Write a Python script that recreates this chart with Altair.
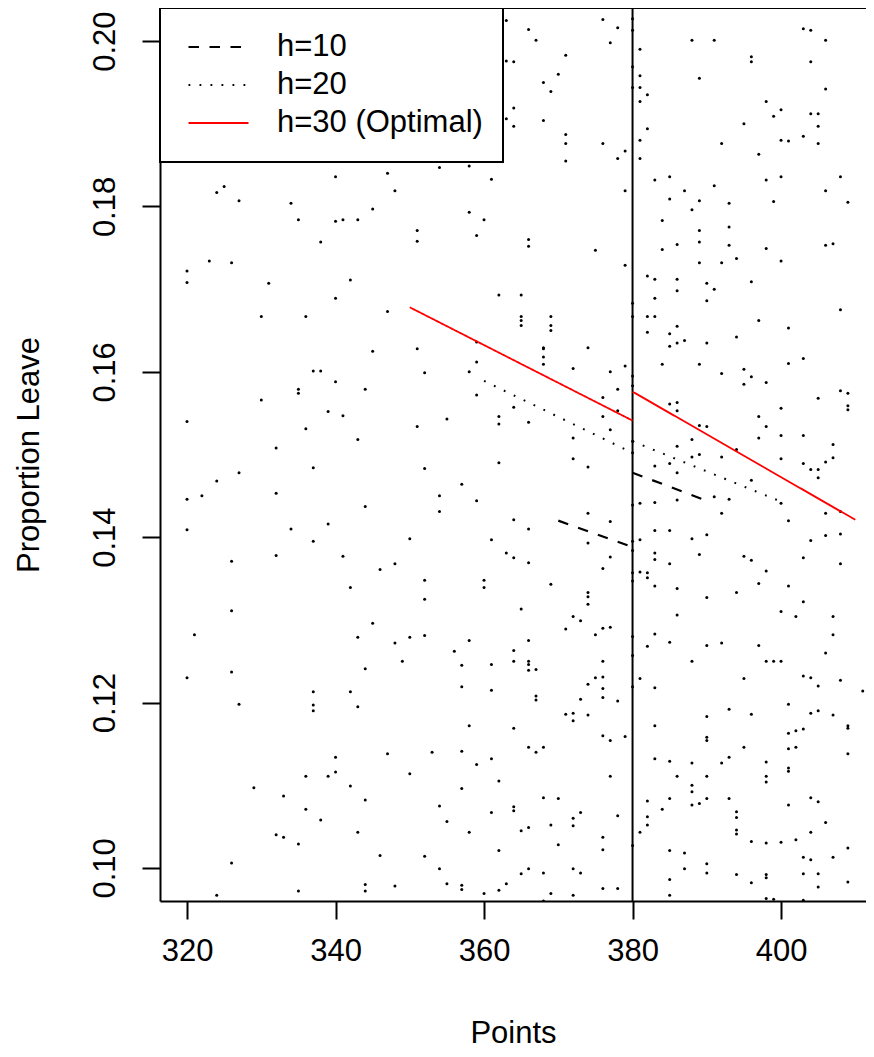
import altair as alt
import pandas as pd

# ---------------- data ----------------
x_domain = [316.36, 411.44]
y_domain = [0.096, 0.204]
x_ticks = [320, 340, 360, 380, 400]
y_ticks = [0.10, 0.12, 0.14, 0.16, 0.18, 0.20]
cutoff = 380

left_points = [
    (324, 0.1817), (325, 0.1824), (327, 0.1807), (334, 0.1804), (335, 0.1784), (340, 0.1836),
    (340, 0.1782), (341, 0.1784), (343, 0.1784), (345, 0.1797), (347, 0.1840), (348, 0.1819),
    (363, 0.2025), (366, 0.2014), (367, 0.2001), (371, 0.1983), (370, 0.1960), (368, 0.1950),
    (369, 0.1939), (363, 0.1976), (364, 0.1975), (364, 0.1919), (363, 0.1906), (364, 0.1897),
    (368, 0.1904), (371, 0.1887), (371, 0.1876), (376, 0.1876), (379, 0.1867), (378, 0.1858),
    (371, 0.1855), (379, 0.1819), (376, 0.2026), (378, 0.2016), (377, 0.1998), (354, 0.1847),
    (358, 0.1849), (361, 0.1833), (358, 0.1793), (360, 0.1784), (351, 0.1771),
    (338, 0.1757), (323, 0.1734), (326, 0.1732), (320, 0.1722), (320, 0.1708), (331, 0.1707),
    (342, 0.1711), (340, 0.1689), (347, 0.1673), (330, 0.1667), (336, 0.1667), (345, 0.1625),
    (337, 0.1601), (338, 0.1601), (340, 0.1588), (335, 0.1579), (335, 0.1574), (344, 0.1579),
    (330, 0.1566), (339, 0.1552), (341, 0.1547), (320, 0.1540), (336, 0.1531), (343, 0.1518),
    (332, 0.1508),
    (351, 0.1758), (359, 0.1765), (366, 0.1760), (366, 0.1752), (375, 0.1747), (379, 0.1729),
    (362, 0.1693), (365, 0.1693), (365, 0.1667), (365, 0.1662), (365, 0.1656), (369, 0.1667),
    (369, 0.1656), (369, 0.1650), (351, 0.1628), (359, 0.1636), (368, 0.1629), (368, 0.1628),
    (368, 0.1618), (368, 0.1609), (374, 0.1629), (352, 0.1599), (359, 0.1612), (358, 0.1600),
    (372, 0.1604), (377, 0.1600), (379, 0.1607), (359, 0.1572), (378, 0.1579), (364, 0.1557),
    (376, 0.1569), (378, 0.1553), (376, 0.1546), (355, 0.1543), (362, 0.1546), (362, 0.1537),
    (366, 0.1539), (351, 0.1534), (377, 0.1530), (372, 0.1520),
    (337, 0.1484), (327, 0.1478), (324, 0.1468), (320, 0.1446), (322, 0.1450), (332, 0.1453),
    (344, 0.1437), (320, 0.1409), (334, 0.1410), (339, 0.1416), (337, 0.1395), (326, 0.1371),
    (332, 0.1378), (341, 0.1377), (346, 0.1361), (348, 0.1368), (342, 0.1339), (326, 0.1311),
    (345, 0.1296), (321, 0.1282), (343, 0.1279), (348, 0.1272), (326, 0.1237), (344, 0.1241),
    (320, 0.1230),
    (352, 0.1483), (362, 0.1490), (372, 0.1495), (374, 0.1485), (357, 0.1464), (354, 0.1450),
    (354, 0.1431), (359, 0.1444), (364, 0.1421), (366, 0.1410), (374, 0.1429), (377, 0.1419),
    (350, 0.1398), (361, 0.1397), (374, 0.1393), (363, 0.1381), (364, 0.1375), (366, 0.1369),
    (377, 0.1376), (376, 0.1362), (352, 0.1348), (360, 0.1348), (360, 0.1339), (369, 0.1343),
    (352, 0.1325), (374, 0.1333), (374, 0.1328), (374, 0.1319), (365, 0.1313), (372, 0.1304),
    (373, 0.1299), (371, 0.1289), (377, 0.1291), (376, 0.1290), (375, 0.1282), (350, 0.1279),
    (352, 0.1281), (358, 0.1275), (366, 0.1275), (356, 0.1262), (364, 0.1263), (349, 0.1250),
    (357, 0.1245), (361, 0.1246), (364, 0.1250), (366, 0.1250), (366, 0.1246), (366, 0.1239),
    (367, 0.1240), (376, 0.1250), (376, 0.1231), (375, 0.1230),
    (327, 0.1198), (337, 0.1213), (337, 0.1197), (337, 0.1190), (342, 0.1213), (343, 0.1195),
    (347, 0.1138), (340, 0.1134), (340, 0.1116), (336, 0.1111), (339, 0.1111), (342, 0.1099),
    (329, 0.1097), (333, 0.1087), (344, 0.1082), (336, 0.1071), (338, 0.1058), (343, 0.1043),
    (332, 0.1040), (333, 0.1037), (335, 0.1029), (346, 0.1015), (326, 0.1006), (344, 0.0980),
    (344, 0.0972), (348, 0.0978), (335, 0.0972), (324, 0.0967),
    (357, 0.1219), (361, 0.1215), (367, 0.1208), (367, 0.1203), (374, 0.1222), (376, 0.1217),
    (373, 0.1204), (376, 0.1206), (378, 0.1202), (371, 0.1186), (372, 0.1187), (372, 0.1178),
    (374, 0.1185), (358, 0.1172), (364, 0.1169), (376, 0.1160), (377, 0.1154), (379, 0.1159),
    (353, 0.1140), (357, 0.1141), (366, 0.1146), (367, 0.1140), (368, 0.1146), (361, 0.1132),
    (359, 0.1125), (350, 0.1114), (362, 0.1105), (377, 0.1111), (357, 0.1096), (368, 0.1085),
    (370, 0.1084), (354, 0.1075), (361, 0.1067), (364, 0.1074), (364, 0.1069), (373, 0.1067),
    (378, 0.1063), (372, 0.1060), (372, 0.1051), (369, 0.1052), (355, 0.1056), (358, 0.1043),
    (365, 0.1045), (366, 0.1049), (376, 0.1037), (376, 0.1022), (370, 0.1028), (362, 0.1021),
    (352, 0.1014), (354, 0.0999), (366, 0.0999), (365, 0.0993), (368, 0.0994), (372, 0.0999),
    (373, 0.0994), (355, 0.0981), (357, 0.0979), (357, 0.0974), (363, 0.0981), (362, 0.0973),
    (360, 0.0969), (369, 0.0969), (372, 0.0967), (376, 0.0975), (378, 0.0975), (368, 0.0960),
]

cutoff_points_y = [0.2027, 0.2013, 0.1969, 0.1944, 0.1683, 0.1667, 0.1595, 0.1583, 0.1516,
                   0.1502, 0.1439, 0.1395, 0.1384, 0.1357, 0.1347, 0.1280, 0.1257, 0.1219, 0.1027]

right_points = [
    (381, 0.1990), (388, 0.2001), (391, 0.2001), (403, 0.2015), (404, 0.2013), (406, 0.2001),
    (396, 0.1981), (396, 0.1975), (404, 0.1975), (381, 0.1958), (389, 0.1955), (381, 0.1944),
    (382, 0.1935), (406, 0.1942), (381, 0.1927), (398, 0.1927), (400, 0.1917), (399, 0.1909),
    (404, 0.1912), (405, 0.1912), (395, 0.1900), (405, 0.1897), (382, 0.1894), (381, 0.1880),
    (400, 0.1880), (401, 0.1879), (403, 0.1885), (405, 0.1876), (392, 0.1876), (397, 0.1863),
    (381, 0.1858), (383, 0.1832), (385, 0.1836), (398, 0.1832), (400, 0.1836), (408, 0.1836),
    (387, 0.1819), (391, 0.1825), (406, 0.1819), (385, 0.1809), (389, 0.1807), (393, 0.1804),
    (399, 0.1806), (409, 0.1805), (388, 0.1796), (384, 0.1783), (393, 0.1775), (389, 0.1771),
    (389, 0.1757), (386, 0.1754), (384, 0.1748), (393, 0.1753), (398, 0.1749), (406, 0.1753),
    (407, 0.1755), (394, 0.1737), (389, 0.1732), (392, 0.1732), (400, 0.1734), (382, 0.1716),
    (383, 0.1712), (386, 0.1712), (396, 0.1709), (390, 0.1707), (391, 0.1700), (386, 0.1698),
    (383, 0.1689), (390, 0.1686), (408, 0.1675), (382, 0.1667), (383, 0.1667), (397, 0.1662),
    (386, 0.1655), (401, 0.1653), (382, 0.1648), (385, 0.1646), (394, 0.1642), (387, 0.1638),
    (386, 0.1635), (390, 0.1635), (385, 0.1631), (384, 0.1609), (389, 0.1609), (401, 0.1610),
    (403, 0.1616), (395, 0.1603), (392, 0.1598), (396, 0.1594), (395, 0.1585), (398, 0.1587),
    (408, 0.1577), (409, 0.1574), (405, 0.1568), (409, 0.1559), (409, 0.1554), (385, 0.1561),
    (386, 0.1563), (386, 0.1553), (400, 0.1556), (397, 0.1546), (389, 0.1535), (390, 0.1534),
    (398, 0.1534), (388, 0.1518), (386, 0.1510), (397, 0.1520), (400, 0.1523), (403, 0.1523),
    (407, 0.1512), (394, 0.1506), (389, 0.1500),
    (388, 0.1497), (392, 0.1497), (400, 0.1495), (403, 0.1489), (404, 0.1482), (405, 0.1482),
    (406, 0.1491), (407, 0.1496), (405, 0.1472), (383, 0.1486), (385, 0.1489), (386, 0.1478),
    (396, 0.1469), (391, 0.1449), (393, 0.1446), (381, 0.1441), (383, 0.1442), (386, 0.1445),
    (400, 0.1441), (392, 0.1429), (406, 0.1429), (408, 0.1431), (401, 0.1420), (383, 0.1408),
    (385, 0.1408), (381, 0.1397), (388, 0.1398), (390, 0.1403), (404, 0.1396), (406, 0.1402),
    (408, 0.1404), (383, 0.1381), (383, 0.1373), (389, 0.1379), (385, 0.1368), (395, 0.1377),
    (396, 0.1372), (403, 0.1375), (408, 0.1368), (381, 0.1358), (382, 0.1357), (382, 0.1351),
    (398, 0.1359), (383, 0.1341), (386, 0.1338), (397, 0.1344), (401, 0.1341), (390, 0.1327),
    (394, 0.1333), (403, 0.1322), (400, 0.1310), (402, 0.1304), (407, 0.1304), (386, 0.1306),
    (383, 0.1283), (407, 0.1282), (382, 0.1268), (385, 0.1273), (390, 0.1269), (392, 0.1272),
    (397, 0.1269), (406, 0.1260), (388, 0.1250), (398, 0.1250), (399, 0.1250), (400, 0.1250),
    (381, 0.1229), (403, 0.1232), (404, 0.1230), (395, 0.1229),
    (408, 0.1227), (411, 0.1214), (383, 0.1218), (405, 0.1220), (401, 0.1198), (393, 0.1192),
    (396, 0.1186), (404, 0.1187), (405, 0.1190), (407, 0.1185), (390, 0.1183), (383, 0.1172),
    (409, 0.1172), (409, 0.1169), (390, 0.1158), (390, 0.1154), (401, 0.1163), (402, 0.1166),
    (403, 0.1168), (395, 0.1146), (401, 0.1144), (402, 0.1146), (409, 0.1138), (383, 0.1132),
    (385, 0.1129), (388, 0.1127), (392, 0.1127), (393, 0.1134), (398, 0.1128), (401, 0.1121),
    (401, 0.1117), (386, 0.1111), (390, 0.1111), (398, 0.1111), (398, 0.1104), (388, 0.1100),
    (388, 0.1092), (385, 0.1084), (390, 0.1084), (393, 0.1084), (382, 0.1081), (388, 0.1076),
    (389, 0.1078), (384, 0.1071), (404, 0.1085), (405, 0.1080), (401, 0.1076), (394, 0.1068),
    (394, 0.1061), (382, 0.1062), (382, 0.1052), (381, 0.1043), (394, 0.1046), (394, 0.1041),
    (406, 0.1055), (404, 0.1043), (396, 0.1032), (398, 0.1030), (400, 0.1031), (402, 0.1034),
    (409, 0.1024), (385, 0.1021), (387, 0.1018), (403, 0.1013), (404, 0.1010), (407, 0.1013),
    (387, 0.0999), (390, 0.1005), (390, 0.0994), (394, 0.0992), (398, 0.0992), (398, 0.0988),
    (403, 0.0993), (405, 0.0993), (396, 0.0982), (385, 0.0986), (405, 0.0977), (409, 0.0983),
    (385, 0.0967), (398, 0.0963), (399, 0.0962), (403, 0.0961),
]

bandwidths = ["h=10", "h=20", "h=30 (Optimal)"]
band_colors = ["black", "black", "red"]
band_dashes = [[10.5, 10.5], [1.8, 9.2], [1, 0]]
band_widths = [2.2, 1.8, 2.5]
# local linear fits on each side of the cutoff: (x values, y values)
fit_h10_left = ([370, 380], [0.1420, 0.1388])
fit_h10_right = ([380, 390], [0.1478, 0.1444])
fit_h20_left = ([360, 380], [0.1589, 0.1502])
fit_h20_right = ([380, 400], [0.1516, 0.1443])
fit_h30_left = ([350, 380], [0.1678, 0.1541])
fit_h30_right = ([380, 410], [0.1576, 0.1421])

# ---------------- tables ----------------
all_pts = left_points + [(cutoff, v) for v in cutoff_points_y] + right_points
pts_df = pd.DataFrame(all_pts, columns=["points", "prop"])

rows = []
for name, side, fit in [
    (bandwidths[0], "left", fit_h10_left), (bandwidths[0], "right", fit_h10_right),
    (bandwidths[1], "left", fit_h20_left), (bandwidths[1], "right", fit_h20_right),
    (bandwidths[2], "left", fit_h30_left), (bandwidths[2], "right", fit_h30_right),
]:
    for xv, yv in zip(*fit):
        rows.append({"h": name, "side": side, "points": xv, "prop": yv})
lines_df = pd.DataFrame(rows)

FONT = "Liberation Sans"
FS = 31

xscale = alt.Scale(domain=x_domain, nice=False, zero=False)
yscale = alt.Scale(domain=y_domain, nice=False, zero=False)

xaxis = alt.Axis(values=x_ticks, title="Points", grid=False, format="d",
                 tickSize=18, tickWidth=2, tickColor="black",
                 domainColor="black", domainWidth=2,
                 labelFont=FONT, labelFontSize=FS, labelColor="black",
                 labelBaseline="alphabetic", labelPadding=41, labelFlush=False,
                 titleFont=FONT, titleFontSize=FS, titleFontWeight="normal",
                 titleColor="black", titleBaseline="alphabetic", titleY=141)
yaxis = alt.Axis(values=y_ticks, title="Proportion Leave", grid=False, format=".2f",
                 tickSize=18, tickWidth=2, tickColor="black",
                 domainColor="black", domainWidth=2,
                 labelFont=FONT, labelFontSize=FS, labelColor="black",
                 labelAngle=270, labelAlign="center", labelBaseline="alphabetic",
                 labelPadding=28, labelFlush=False,
                 titleFont=FONT, titleFontSize=FS, titleFontWeight="normal",
                 titleColor="black", titleAngle=270, titleAlign="center",
                 titleBaseline="alphabetic", titleX=-122)

x_enc = alt.X("points:Q", scale=xscale, axis=xaxis)
y_enc = alt.Y("prop:Q", scale=yscale, axis=yaxis)

dots = alt.Chart(pts_df).mark_circle(size=9, color="black", opacity=1, clip=True).encode(
    x=x_enc, y=y_enc)

cut_rule = alt.Chart(pd.DataFrame({"points": [cutoff]})).mark_rule(
    color="black", strokeWidth=2).encode(x=x_enc)

fits = alt.Chart(lines_df).mark_line(clip=True).encode(
    x=x_enc, y=y_enc,
    color=alt.Color("h:N", scale=alt.Scale(domain=bandwidths, range=band_colors),
                    legend=alt.Legend(title=None)),
    strokeDash=alt.StrokeDash("h:N", scale=alt.Scale(domain=bandwidths, range=band_dashes),
                              legend=alt.Legend(title=None)),
    strokeWidth=alt.StrokeWidth("h:N", scale=alt.Scale(domain=bandwidths, range=band_widths),
                                legend=None),
    detail="side:N",
)

top_rule = alt.Chart(pd.DataFrame({"prop": [y_domain[1]]})).mark_rule(
    color="black", strokeWidth=2).encode(y=y_enc)

chart = alt.layer(dots, cut_rule, fits, top_rule).properties(
    width=706, height=893,
    autosize=alt.AutoSizeParams(type="none"),
    padding={"left": 152, "top": 0, "right": 0, "bottom": 147},
).configure_view(stroke=None).configure_legend(
    orient="none", legendX=0, legendY=0,
    fillColor="white", strokeColor="black", strokeWidth=2, padding=20,
    labelFont=FONT, labelFontSize=FS, labelColor="black", labelLimit=400,
    symbolType="M-1,0H5", symbolSize=400, symbolStrokeWidth=2, symbolOffset=3,
    labelOffset=63, rowPadding=0, clipHeight=38,
)

chart.save("out.html", embed_options={"renderer": "svg", "actions": False})
